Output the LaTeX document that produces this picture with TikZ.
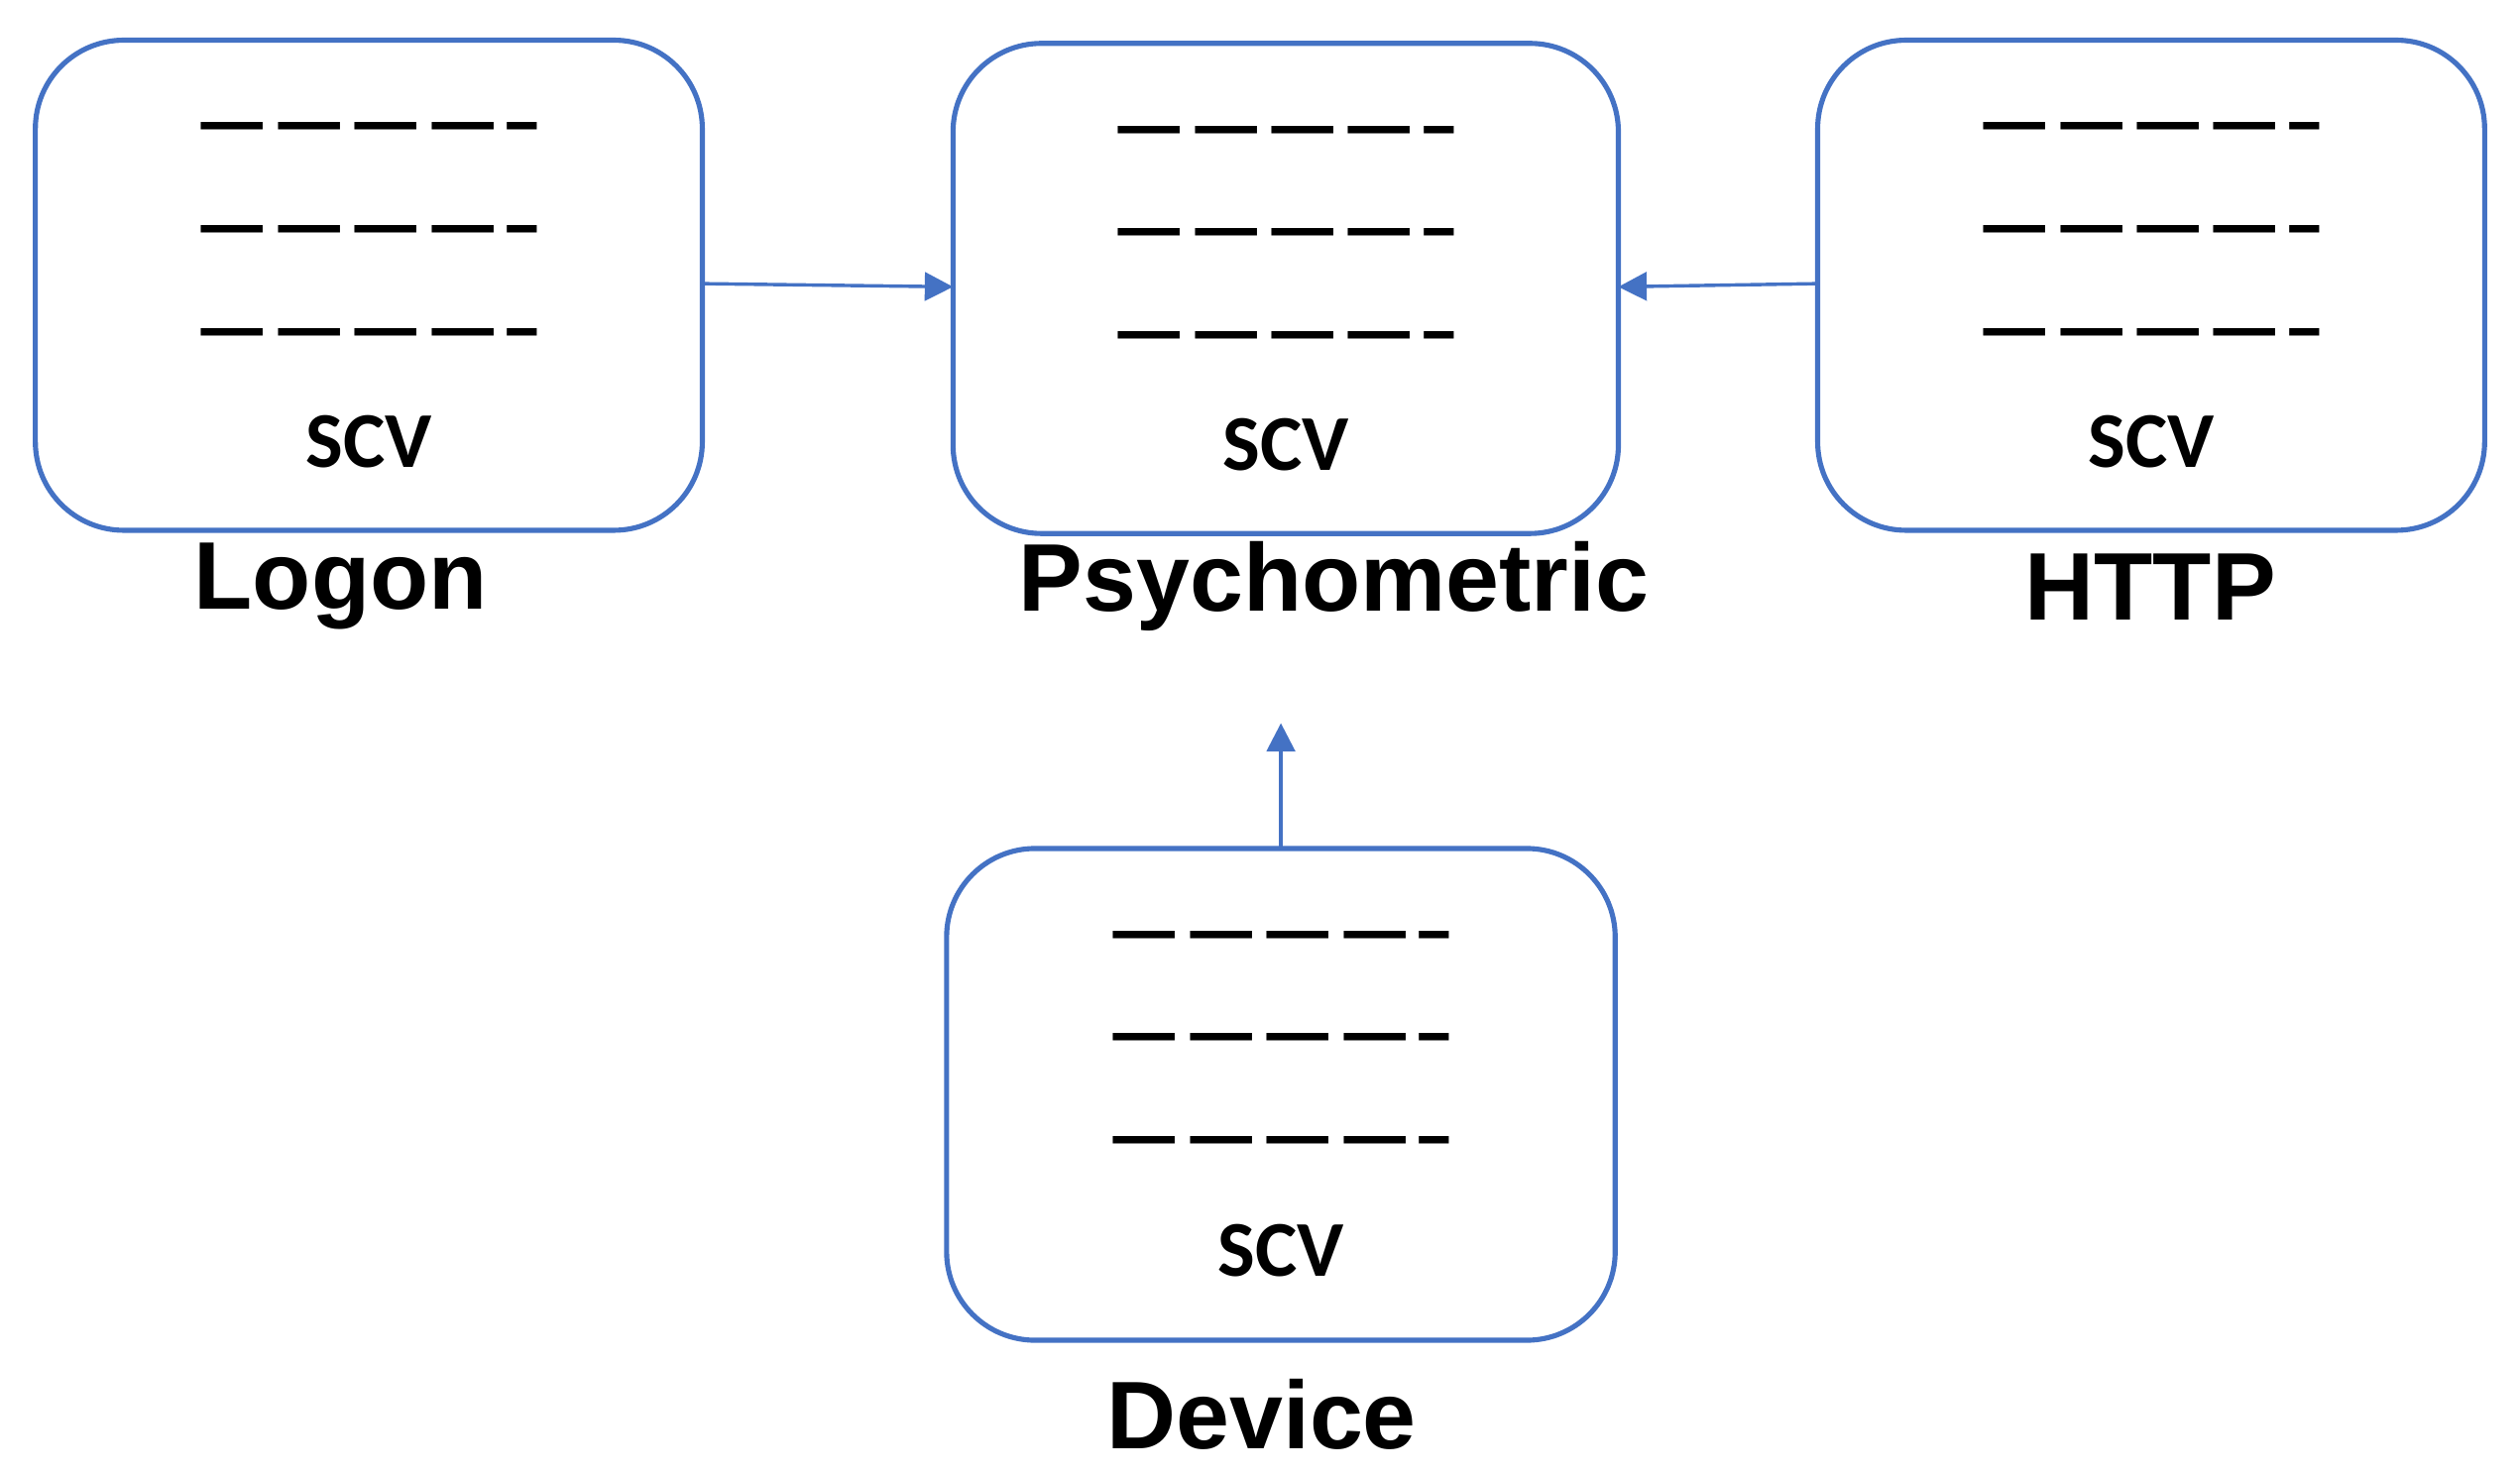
\documentclass[tikz,border=0pt]{standalone}
\usepackage{fontspec}
\setmainfont{Carlito}
\newfontfamily\lab{Liberation Sans}
\usetikzlibrary{arrows.meta}
\definecolor{bl}{RGB}{68,114,196}
\begin{document}
\begin{tikzpicture}[x=0.01cm,y=-0.01cm,
  box/.style={draw=bl,line width=0.9pt,rounded corners=0.55cm},
  dl/.style={font=\bfseries\fontsize{15}{15}\selectfont,inner sep=0},
  scv/.style={font=\bfseries\fontsize{14}{14}\selectfont,inner sep=0},
  lb/.style={font=\lab\bfseries\fontsize{17}{17}\selectfont,inner sep=0},
  ar/.style={draw=bl,line width=0.6pt,-{Triangle[length=5pt,width=5pt]}}]
\useasboundingbox (0,0) rectangle (1568,919);
\newcommand\mybox[6]{%
  \draw[box] (#1,#2) rectangle (#3,#4) node[pos=0.5] (#5) {};
  \coordinate (#5-w) at (#1,{(#2+#4)/2-1});
  \coordinate (#5-e) at (#3,{(#2+#4)/2-1});
  \coordinate (#5-n) at ({(#1+#3)/2},#2);
  \node[dl] at ({(#1+#3)/2},#2+60) {--------------};
  \node[dl] at ({(#1+#3)/2},#2+124) {--------------};
  \node[dl] at ({(#1+#3)/2},#2+188) {--------------};
  \node[scv] at ({(#1+#3)/2},#2+250) {SCV};
}
\mybox{22}{25}{437}{330}{logon}{}
\mybox{593}{27}{1007}{332}{psy}{}
\mybox{1131}{25}{1546}{330}{http}{}
\mybox{589}{528}{1005}{834}{dev}{}
\node[lb] at (212,365) {Logon};
\node[lb] at (830,365) {Psychometric};
\node[lb] at (1338,365) {HTTP};
\node[lb] at (785,880) {Device};
\coordinate (up) at (797,450);
\draw[ar] (logon-e) -- (psy-w);
\draw[ar] (http-e-|http-w) ++(0,0) -- (psy-e);
\draw[ar] (797,528) -- (up);
\end{tikzpicture}
\end{document}
